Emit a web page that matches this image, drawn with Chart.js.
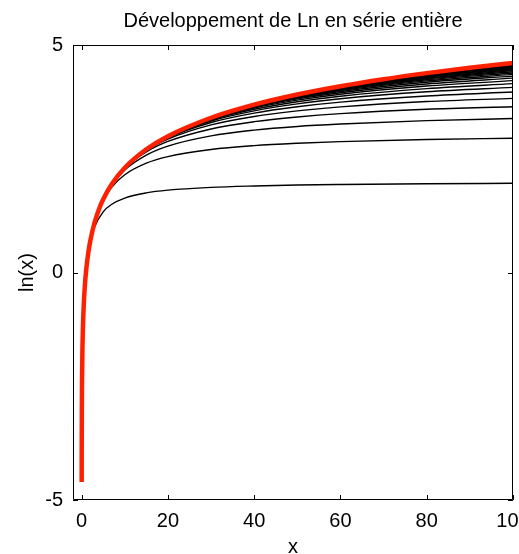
<html>
  <head>
    <title>Ln series</title>
    <style>
      body { margin: 0; background: #fff; }
    </style>
  </head>
  <body>
    <canvas id="myChart" width="519" height="554"></canvas>
  </body>
</html>

<script src="https://cdn.jsdelivr.net/npm/chart.js"></script>
<script>
  // ln(x), red curve
  var xRed = [0.01, 0.02, 0.05, 0.1, 0.2, 0.3, 0.5, 0.75, 1, 1.5, 2, 3, 4, 5, 7, 10, 15, 20, 30, 40, 50, 60, 70, 80, 90, 100];
  var lnRed = [-4.605, -3.912, -2.996, -2.303, -1.609, -1.204, -0.693, -0.288, 0, 0.405, 0.693, 1.099, 1.386, 1.609, 1.946, 2.303, 2.708, 2.996, 3.401, 3.689, 3.912, 4.094, 4.248, 4.382, 4.500, 4.605];

  // partial sums, black curves (1, 3, 5 ... 49 terms)
  var xBlack = [1, 2, 3, 5, 7, 10, 15, 20, 30, 40, 50, 60, 80, 100];
  var s1  = [0, 0.667, 1.000, 1.333, 1.500, 1.636, 1.750, 1.810, 1.871, 1.902, 1.922, 1.934, 1.951, 1.960];
  var s3  = [0, 0.693, 1.096, 1.584, 1.876, 2.148, 2.402, 2.546, 2.703, 2.788, 2.840, 2.876, 2.922, 2.950];
  var s5  = [0, 0.693, 1.099, 1.606, 1.931, 2.254, 2.580, 2.777, 3.002, 3.129, 3.210, 3.263, 3.338, 3.383];
  var s7  = [0, 0.693, 1.099, 1.609, 1.942, 2.286, 2.649, 2.880, 3.155, 3.315, 3.418, 3.492, 3.588, 3.644];
  var s9  = [0, 0.693, 1.099, 1.609, 1.945, 2.296, 2.680, 2.931, 3.243, 3.429, 3.552, 3.640, 3.757, 3.828];
  var s11 = [0, 0.693, 1.099, 1.609, 1.946, 2.300, 2.694, 2.958, 3.296, 3.503, 3.642, 3.744, 3.879, 3.966];
  var s13 = [0, 0.693, 1.099, 1.609, 1.946, 2.302, 2.701, 2.974, 3.330, 3.553, 3.707, 3.818, 3.971, 4.068];
  var s15 = [0, 0.693, 1.099, 1.609, 1.946, 2.303, 2.704, 2.983, 3.352, 3.589, 3.754, 3.875, 4.042, 4.151];
  var s17 = [0, 0.693, 1.099, 1.609, 1.946, 2.303, 2.706, 2.988, 3.367, 3.614, 3.788, 3.919, 4.098, 4.216];
  var s19 = [0, 0.693, 1.099, 1.609, 1.946, 2.303, 2.707, 2.991, 3.377, 3.633, 3.815, 3.952, 4.143, 4.271];
  var s21 = [0, 0.693, 1.099, 1.609, 1.946, 2.303, 2.708, 2.993, 3.384, 3.646, 3.835, 3.978, 4.181, 4.316];
  var s23 = [0, 0.693, 1.099, 1.609, 1.946, 2.303, 2.708, 2.994, 3.389, 3.656, 3.851, 3.999, 4.211, 4.354];
  var s25 = [0, 0.693, 1.099, 1.609, 1.946, 2.303, 2.708, 2.995, 3.393, 3.664, 3.863, 4.016, 4.236, 4.386];
  var s27 = [0, 0.693, 1.099, 1.609, 1.946, 2.303, 2.708, 2.995, 3.395, 3.670, 3.873, 4.030, 4.257, 4.413];
  var s29 = [0, 0.693, 1.099, 1.609, 1.946, 2.303, 2.708, 2.996, 3.397, 3.674, 3.880, 4.041, 4.274, 4.437];
  var s31 = [0, 0.693, 1.099, 1.609, 1.946, 2.303, 2.708, 2.996, 3.398, 3.677, 3.886, 4.050, 4.289, 4.457];
  var s33 = [0, 0.693, 1.099, 1.609, 1.946, 2.303, 2.708, 2.996, 3.399, 3.680, 3.891, 4.057, 4.302, 4.474];
  var s35 = [0, 0.693, 1.099, 1.609, 1.946, 2.303, 2.708, 2.996, 3.400, 3.682, 3.895, 4.063, 4.313, 4.489];
  var s37 = [0, 0.693, 1.099, 1.609, 1.946, 2.303, 2.708, 2.996, 3.400, 3.683, 3.898, 4.068, 4.322, 4.502];
  var s39 = [0, 0.693, 1.099, 1.609, 1.946, 2.303, 2.708, 2.996, 3.401, 3.685, 3.901, 4.072, 4.330, 4.514];
  var s41 = [0, 0.693, 1.099, 1.609, 1.946, 2.303, 2.708, 2.996, 3.401, 3.686, 3.903, 4.076, 4.336, 4.524];
  var s43 = [0, 0.693, 1.099, 1.609, 1.946, 2.303, 2.708, 2.996, 3.401, 3.687, 3.905, 4.079, 4.342, 4.533];
  var s45 = [0, 0.693, 1.099, 1.609, 1.946, 2.303, 2.708, 2.996, 3.401, 3.687, 3.906, 4.081, 4.347, 4.540];
  var s47 = [0, 0.693, 1.099, 1.609, 1.946, 2.303, 2.708, 2.996, 3.401, 3.688, 3.907, 4.083, 4.352, 4.547];
  var s49 = [0, 0.693, 1.099, 1.609, 1.946, 2.303, 2.708, 2.996, 3.401, 3.688, 3.908, 4.085, 4.355, 4.553];

  var partialSums = [s1, s3, s5, s7, s9, s11, s13, s15, s17, s19, s21, s23, s25,
                     s27, s29, s31, s33, s35, s37, s39, s41, s43, s45, s47, s49];

  var xTicks = [0, 20, 40, 60, 80, 100];
  var yTicks = [-5, 0, 5];

  var fontFamily = '"Liberation Sans Narrow", "Liberation Sans", Arial, sans-serif';

  function toPoints(xs, ys){
    return xs.map(function(x, i){ return {x: x, y: ys[i]}; });
  }

  var datasets = [{
    data: toPoints(xRed, lnRed),
    borderColor: 'rgb(255, 32, 0)',
    borderWidth: 4.5,
    pointRadius: 0,
    cubicInterpolationMode: 'monotone'
  }];
  partialSums.forEach(function(s){
    datasets.push({
      data: toPoints(xBlack, s),
      borderColor: '#000',
      borderWidth: 1.4,
      pointRadius: 0,
      cubicInterpolationMode: 'monotone'
    });
  });

  // MATLAB style frame with inward ticks
  const framePlugin = {
    id: 'frame',
    afterDraw(chart){
      const c = chart.ctx, a = chart.chartArea;
      const sx = chart.scales.x, sy = chart.scales.y;
      c.save();
      c.strokeStyle = '#000';
      c.lineWidth = 1;
      c.beginPath();
      c.rect(a.left + 0.5, a.top + 0.5, a.right - a.left - 1, a.bottom - a.top - 1);
      xTicks.forEach(function(v){
        const px = Math.round(sx.getPixelForValue(v)) + 0.5;
        c.moveTo(px, a.bottom); c.lineTo(px, a.bottom - 5);
        c.moveTo(px, a.top); c.lineTo(px, a.top + 5);
      });
      yTicks.forEach(function(v){
        const py = Math.round(sy.getPixelForValue(v)) + 0.5;
        c.moveTo(a.left, py); c.lineTo(a.left + 5, py);
        c.moveTo(a.right, py); c.lineTo(a.right - 5, py);
      });
      c.stroke();
      c.restore();
    }
  };

  const ctx = document.getElementById('myChart').getContext('2d');
  const myChart = new Chart(ctx, {
    type: 'line',
    data: { datasets: datasets },
    plugins: [framePlugin],
    options: {
      responsive: false,
      animation: false,
      devicePixelRatio: 1,
      layout: { padding: { left: 0, right: 6, top: 0, bottom: 0 } },
      plugins: {
        legend: { display: false },
        tooltip: { enabled: false },
        title: {
          display: true,
          text: 'Développement de Ln en série entière',
          fullSize: false,
          color: '#000',
          font: { family: fontFamily, size: 20, weight: 'normal', lineHeight: 1 },
          padding: { top: 11, bottom: 14 }
        }
      },
      scales: {
        x: {
          type: 'linear',
          min: -2,
          max: 100,
          grid: { display: false, drawTicks: false },
          border: { display: false },
          afterBuildTicks: function(s){ s.ticks = xTicks.map(function(v){ return {value: v}; }); },
          afterFit: function(s){ s.height = 54; s.paddingLeft = 0; s.paddingRight = 0; },
          ticks: {
            color: '#000',
            padding: 9,
            maxRotation: 0,
            autoSkip: false,
            font: { family: fontFamily, size: 20 }
          },
          title: {
            display: true,
            text: 'x',
            color: '#000',
            font: { family: fontFamily, size: 20, lineHeight: 0.7 },
            padding: { top: 0, bottom: 0 }
          }
        },
        y: {
          type: 'linear',
          min: -5,
          max: 5,
          grid: { display: false, drawTicks: false },
          border: { display: false },
          afterBuildTicks: function(s){ s.ticks = yTicks.map(function(v){ return {value: v}; }); },
          afterFit: function(s){ s.width = 73; s.paddingTop = 0; s.paddingBottom = 0; },
          ticks: {
            color: '#000',
            padding: 10,
            font: { family: fontFamily, size: 20 }
          },
          title: {
            display: true,
            text: 'ln(x)',
            color: '#000',
            font: { family: fontFamily, size: 20, lineHeight: 1 },
            padding: { top: 17, bottom: 0 }
          }
        }
      }
    }
  });
</script>
